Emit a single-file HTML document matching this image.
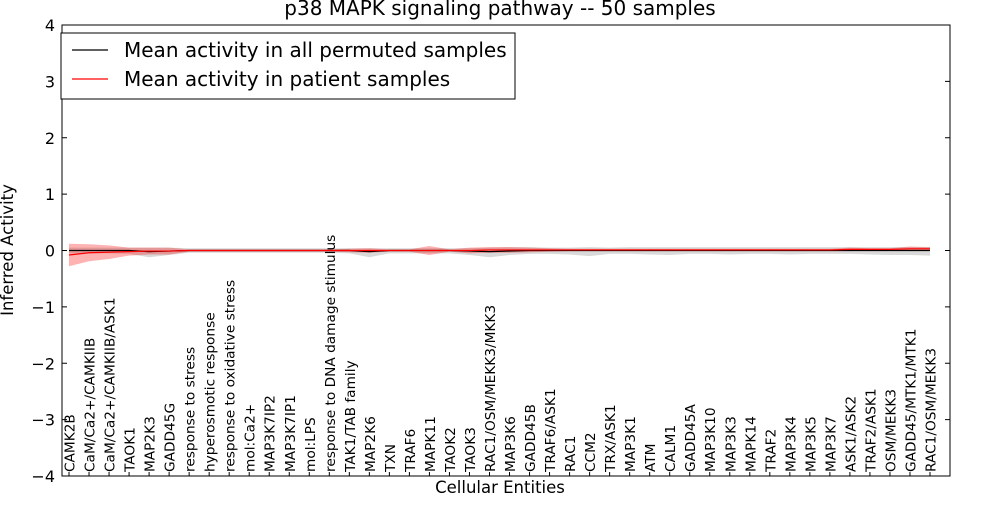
<!DOCTYPE html>
<html><head><meta charset="utf-8"><style>
body{margin:0;background:#fff;}
svg{font-family:"DejaVu Sans","Liberation Sans",sans-serif;}
</style></head><body>
<svg id="c" width="1000" height="500" xmlns="http://www.w3.org/2000/svg"></svg>
<script>
const categories=["CAMK2B","CaM/Ca2+/CAMKIIB","CaM/Ca2+/CAMKIIB/ASK1","TAOK1","MAP2K3","GADD45G","response to stress","hyperosmotic response","response to oxidative stress","mol:Ca2+","MAP3K7IP2","MAP3K7IP1","mol:LPS","response to DNA damage stimulus","TAK1/TAB family","MAP2K6","TXN","TRAF6","MAPK11","TAOK2","TAOK3","RAC1/OSM/MEKK3/MKK3","MAP3K6","GADD45B","TRAF6/ASK1","RAC1","CCM2","TRX/ASK1","MAP3K1","ATM","CALM1","GADD45A","MAP3K10","MAP3K3","MAPK14","TRAF2","MAP3K4","MAP3K5","MAP3K7","ASK1/ASK2","TRAF2/ASK1","OSM/MEKK3","GADD45/MTK1/MTK1","RAC1/OSM/MEKK3"];
const patientMean=[-0.08,-0.04,-0.03,-0.02,-0.01,-0.01,0,0,0,0,0,0,0,0,0,0,0,0,0,0,0,0.01,0.01,0.01,0.01,0.01,0.01,0.01,0.01,0.01,0.01,0.01,0.01,0.01,0.01,0.01,0.01,0.01,0.01,0.02,0.02,0.02,0.03,0.03];
const patientSpread=[0.2,0.15,0.12,0.07,0.06,0.06,0.02,0.02,0.02,0.02,0.02,0.02,0.02,0.02,0.03,0.04,0.02,0.02,0.08,0.02,0.05,0.05,0.05,0.04,0.03,0.02,0.02,0.02,0.02,0.02,0.02,0.02,0.02,0.02,0.02,0.02,0.02,0.02,0.02,0.03,0.02,0.02,0.04,0.03];
const permMean=[0,0,0,0,-0.02,-0.01,0,0,0,0,0,0,0,0,0,-0.02,0,0,0,0,-0.01,-0.02,-0.01,0,0,0,0,0,0,0,0,0,0,0,0,0,0,0,0,0,0,0,0,0];
const permLow=[-0.05,-0.05,-0.05,-0.06,-0.12,-0.08,-0.04,-0.04,-0.04,-0.04,-0.04,-0.04,-0.04,-0.04,-0.05,-0.12,-0.05,-0.05,-0.05,-0.05,-0.08,-0.12,-0.08,-0.06,-0.06,-0.07,-0.1,-0.06,-0.06,-0.07,-0.08,-0.06,-0.06,-0.07,-0.06,-0.06,-0.07,-0.06,-0.06,-0.06,-0.07,-0.08,-0.08,-0.09];
const permHigh=[0.05,0.05,0.05,0.05,0.05,0.05,0.04,0.04,0.04,0.04,0.04,0.04,0.04,0.04,0.04,0.04,0.04,0.04,0.04,0.04,0.04,0.05,0.06,0.06,0.05,0.05,0.06,0.05,0.06,0.06,0.06,0.06,0.06,0.06,0.06,0.06,0.06,0.06,0.06,0.06,0.06,0.06,0.06,0.06];
const yTicks=[-4,-3,-2,-1,0,1,2,3,4];

const svg=document.getElementById('c');const NS='http://www.w3.org/2000/svg';
const L=62,R=950,T=25,B=476;
const xs=i=>69+i*(930-69)/(categories.length-1);
const ys=v=>T+(4-v)*(B-T)/8;
function mk(tag,at,name,parent){const e=document.createElementNS(NS,tag);for(const k in at)e.setAttribute(k,at[k]);


(parent||svg).appendChild(e);return e;}
function band(lo,hi,fill,op,name){let d='';categories.forEach((c,i)=>{d+=(i?'L':'M')+xs(i)+','+ys(hi[i]);});
for(let i=categories.length-1;i>=0;i--)d+='L'+xs(i)+','+ys(lo[i]);mk('path',{d:d+'Z',fill:fill,'fill-opacity':op,stroke:'none'},name);}
function line(arr,col,name,dash){mk('path',{d:arr.map((v,i)=>(i?'L':'M')+xs(i)+','+ys(v)).join(''),fill:'none',stroke:col,'stroke-width':1.2,'stroke-dasharray':dash||''},name);}
band(permLow,permHigh,'#aaaaaa',0.45,'permuted-band');
band(patientMean.map((v,i)=>v-patientSpread[i]),patientMean.map((v,i)=>v+patientSpread[i]),'#ff0000',0.3,'patient-band');
line(permMean,'#000','permuted-mean-line');
line(patientMean,'#ff0000','patient-mean-line');
mk('rect',{x:L,y:T,width:R-L,height:B-T,fill:'none',stroke:'#000','stroke-width':1},'plot-frame');
yTicks.forEach(v=>{const y=ys(v);
mk('line',{x1:L,x2:L+5,y1:y,y2:y,stroke:'#000'},'y-tick');mk('line',{x1:R-5,x2:R,y1:y,y2:y,stroke:'#000'},'y-tick');
const t=mk('text',{x:L-7,y:y+6,'text-anchor':'end','font-size':16},'y-tick-label');t.textContent=(v<0?'\u2212':'')+Math.abs(v);});
categories.forEach((c,i)=>{const x=xs(i);
mk('line',{x1:x,x2:x,y1:B,y2:B-4,stroke:'#000'},'x-tick');
const t=mk('text',{transform:'translate('+(x+5.5)+','+(B-4)+') rotate(-90)','font-size':13.7},'x-tick-label');t.textContent=c;});
let t=mk('text',{x:500,y:15,'text-anchor':'middle','font-size':20},'chart-title');t.textContent='p38 MAPK signaling pathway -- 50 samples';
t=mk('text',{x:500,y:493,'text-anchor':'middle','font-size':16.5},'x-axis-title');t.textContent='Cellular Entities';
t=mk('text',{transform:'translate(13,250) rotate(-90)','text-anchor':'middle','font-size':16.5},'y-axis-title');t.textContent='Inferred Activity';
const lg=mk('g',{},'legend');
mk('rect',{x:61,y:33,width:454,height:66,fill:'#fff',stroke:'#000'},'legend-box',lg);
mk('line',{x1:72,x2:108,y1:50,y2:50,stroke:'#000','stroke-width':1.2},'legend-swatch-permuted',lg);
t=mk('text',{x:124,y:57,'font-size':20},'legend-label-permuted',lg);t.textContent='Mean activity in all permuted samples';
mk('line',{x1:72,x2:108,y1:79,y2:79,stroke:'#ff0000','stroke-width':1.2},'legend-swatch-patient',lg);
t=mk('text',{x:124,y:86,'font-size':20},'legend-label-patient',lg);t.textContent='Mean activity in patient samples';
</script>
</body></html>
